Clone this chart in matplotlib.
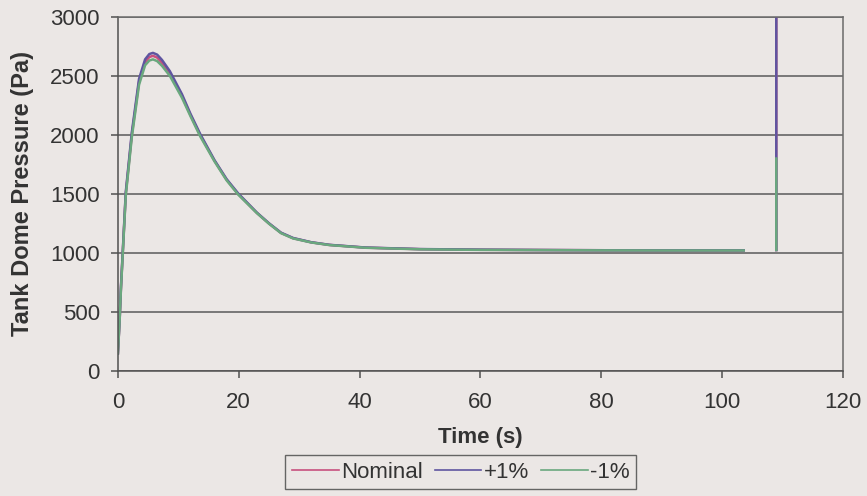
import numpy as np
import matplotlib
matplotlib.use("Agg")
import matplotlib.pyplot as plt

# ---- data ----
time_s = [0, 0.3, 0.5, 0.8, 1.3, 2.3, 3.5, 4.5, 5.2, 5.8, 6.5, 7.3, 8.6, 10.6, 12, 13.6,
          16, 18, 19.9, 23, 25, 27, 29, 32, 35, 41, 50, 60, 70, 80, 90, 103.6]
nominal = [150, 450, 700, 1000, 1500, 2000, 2450, 2615, 2660, 2670, 2655, 2610, 2520,
           2330, 2170, 2000, 1780, 1620, 1500, 1340, 1250, 1170, 1125, 1090, 1068,
           1045, 1032, 1027, 1025, 1023, 1022, 1022]
plus1 = [150, 455, 710, 1010, 1515, 2020, 2475, 2640, 2685, 2695, 2680, 2635, 2540,
         2345, 2180, 2010, 1785, 1625, 1505, 1342, 1252, 1172, 1127, 1091, 1069,
         1046, 1033, 1028, 1025, 1023, 1022, 1022]
minus1 = [150, 445, 690, 990, 1485, 1980, 2425, 2590, 2630, 2640, 2625, 2585, 2500,
          2315, 2160, 1990, 1775, 1615, 1495, 1338, 1248, 1168, 1123, 1089, 1067,
          1044, 1031, 1026, 1024, 1022, 1021, 1021]
spike_t = [109, 109]
nominal_spike = [1025, 3100]
plus1_spike = [1025, 3100]
minus1_spike = [1025, 1800]

series_names = ["Nominal", "+1%", "-1%"]
colors = ["#c8507e", "#5f55a0", "#6aa87e"]

xticks = [0, 20, 40, 60, 80, 100, 120]
yticks = [0, 500, 1000, 1500, 2000, 2500, 3000]

plt.rcParams['font.family'] = ['Liberation Sans', 'DejaVu Sans']
bg = "#ebe7e5"
fig = plt.figure(figsize=(8.67, 4.96), dpi=100, facecolor=bg)
ax = fig.add_axes([0.136, 0.252, 0.836, 0.714], facecolor=bg)

for name, vals, sp, c in zip(series_names, [nominal, plus1, minus1],
                             [nominal_spike, plus1_spike, minus1_spike], colors):
    t = list(time_s) + [np.nan] + spike_t
    v = list(vals) + [np.nan] + sp
    ax.plot(t, v, color=c, lw=1.8, label=name)

ax.set_xlim(0, 120)
ax.set_ylim(0, 3000)
ax.set_xticks(xticks)
ax.set_yticks(yticks)
ax.yaxis.grid(True, color="#5a5a5a", lw=1.1)
ax.set_axisbelow(True)
for s in ax.spines.values():
    s.set_color("#6a6a6a")
    s.set_linewidth(1.1)
ax.spines['left'].set_color("#505050")
ax.spines['bottom'].set_color("#505050")
ax.tick_params(axis='both', colors="#505050", labelcolor="#333333", labelsize=16,
               length=5, width=1.1)
ax.tick_params(axis='y', pad=8)
ax.tick_params(axis='x', pad=10)

ax.set_xlabel("Time (s)", fontsize=16, fontweight='bold', color="#333333", labelpad=10)
ax.set_ylabel("Tank Dome Pressure (Pa)", fontsize=17, fontweight='bold', color="#333333",
              labelpad=12)

leg = ax.legend(loc='upper center', bbox_to_anchor=(0.473, -0.237), ncol=3,
                frameon=True, fancybox=False, fontsize=16, handlelength=2.1,
                handletextpad=0.1, columnspacing=0.55, borderpad=0.3,
                borderaxespad=0)
leg.get_frame().set_edgecolor("#444444")
leg.get_frame().set_facecolor(bg)
leg.get_frame().set_linewidth(1.0)
for txt in leg.get_texts():
    txt.set_color("#333333")
for h in leg.get_lines():
    h.set_linewidth(1.2)

fig.savefig("out.png", dpi=100, facecolor=bg)
